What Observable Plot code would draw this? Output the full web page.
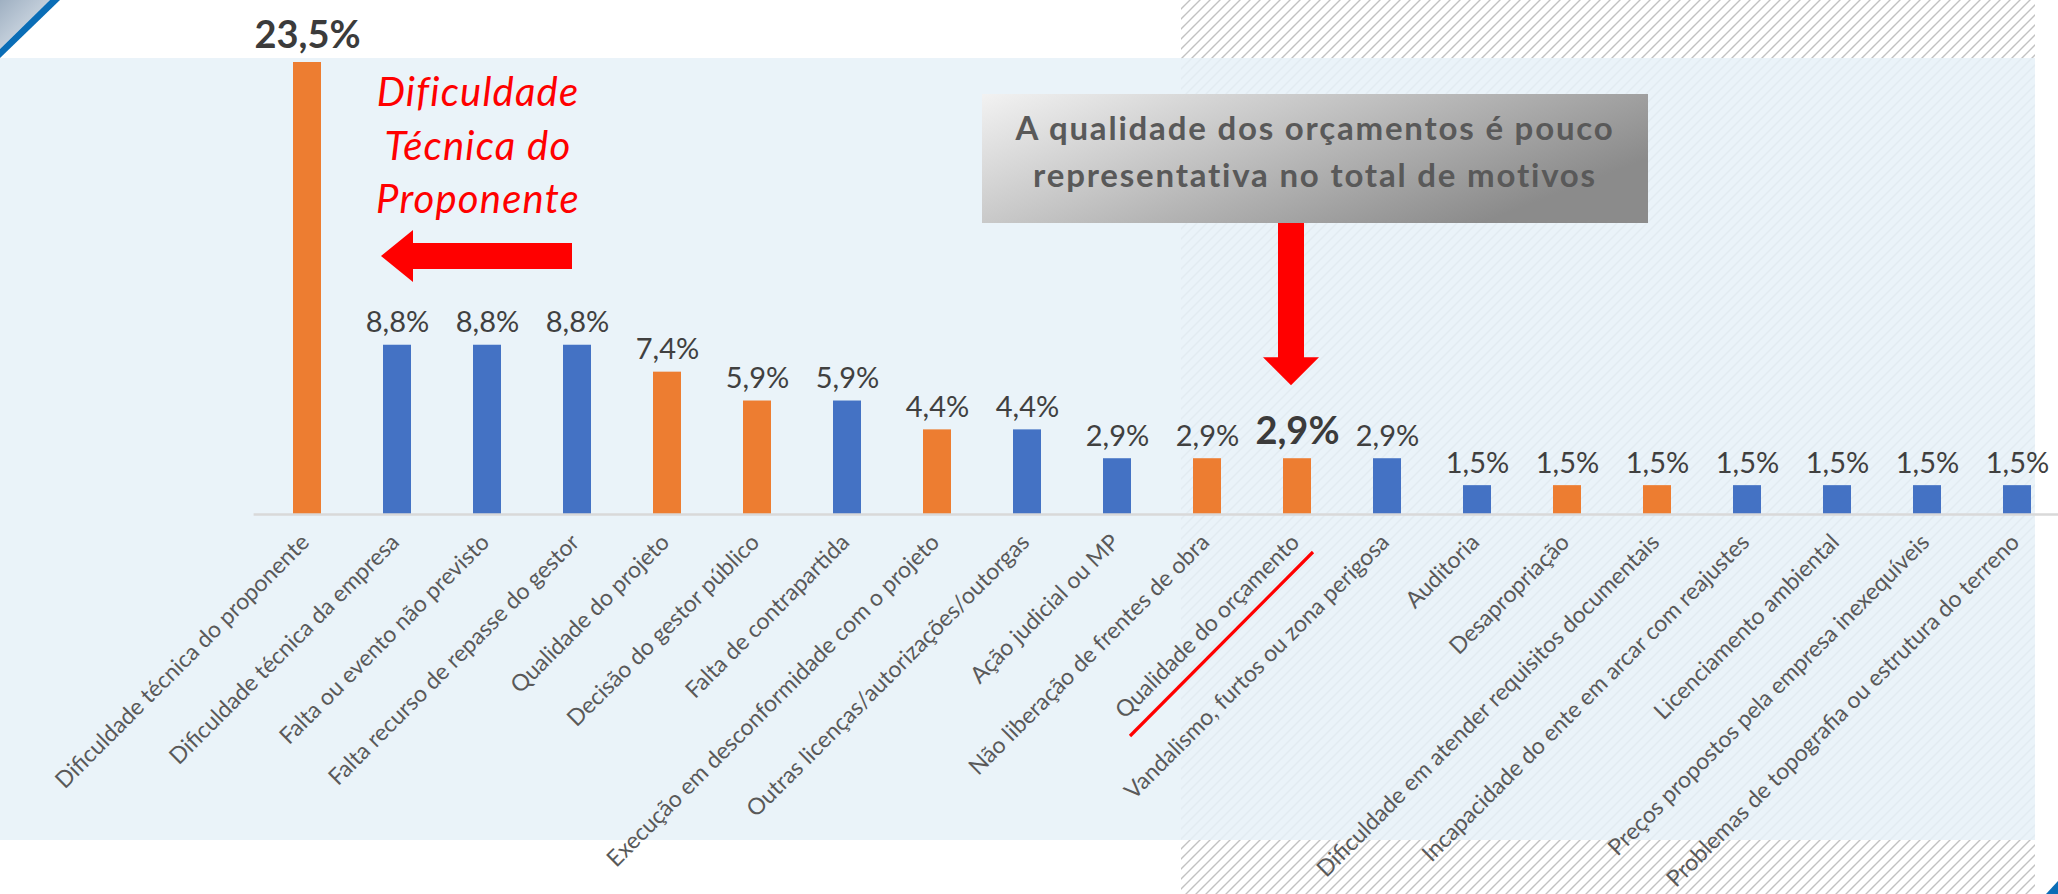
<!DOCTYPE html>
<html>
<head>
<meta charset="utf-8">
<script src="https://cdn.jsdelivr.net/npm/d3@7"></script>
<script src="https://cdn.jsdelivr.net/npm/@observablehq/plot@0.6"></script>
<style>
  html, body { margin: 0; padding: 0; background: #ffffff; }
  #chart svg { display: block; }
</style>
</head>
<body>
<div id="chart"></div>
<script>
// ---- Data ----
const categories = [
  "Dificuldade técnica do proponente",
  "Dificuldade técnica da empresa",
  "Falta ou evento não previsto",
  "Falta recurso de repasse do gestor",
  "Qualidade do projeto",
  "Decisão do gestor público",
  "Falta de contrapartida",
  "Execução em desconformidade com o projeto",
  "Outras licenças/autorizações/outorgas",
  "Ação judicial ou MP",
  "Não liberação de frentes de obra",
  "Qualidade do orçamento",
  "Vandalismo, furtos ou zona perigosa",
  "Auditoria",
  "Desapropriação",
  "Dificuldade em atender requisitos documentais",
  "Incapacidade do ente em arcar com reajustes",
  "Licenciamento ambiental",
  "Preços propostos pela empresa inexequíveis",
  "Problemas de topografia ou estrutura do terreno"
];
const values = [23.5, 8.8, 8.8, 8.8, 7.4, 5.9, 5.9, 4.4, 4.4, 2.9, 2.9, 2.9, 2.9, 1.5, 1.5, 1.5, 1.5, 1.5, 1.5, 1.5];
const groups = ["laranja", "azul", "azul", "azul", "laranja", "laranja", "azul", "laranja", "azul", "azul",
                "laranja", "laranja", "azul", "azul", "laranja", "laranja", "azul", "azul", "azul", "azul"];
const highlighted = ["Dificuldade técnica do proponente", "Qualidade do orçamento"];
const noteLeft = ["Dificuldade", "Técnica do", "Proponente"];
const noteBox = ["A qualidade dos orçamentos é pouco", "representativa no total de motivos"];
const focusCategory = "Qualidade do orçamento";

const table = categories.map((c, i) => ({categoria: c, valor: values[i], grupo: groups[i], destaque: highlighted.includes(c)}));
const fmt = v => d3.format(".1f")(v).replace(".", ",") + "%";

const FONT = "Lato, 'DejaVu Sans', sans-serif";

// ---- Background decoration (panel, hatch, corner ornaments) ----
function background(index, scales, values, dim) {
  const g = d3.create("svg:g");
  const defs = g.append("defs");
  const pat = defs.append("pattern").attr("id", "hatch").attr("patternUnits", "userSpaceOnUse")
    .attr("width", 10).attr("height", 10);
  pat.append("path").attr("d", "M-2,2 L2,-2 M0,10 L10,0 M8,12 L12,8")
    .attr("stroke", "#c2c2c2").attr("stroke-width", 1.4);
  const cg = defs.append("linearGradient").attr("id", "cornerGrad").attr("x1", 0).attr("y1", 0).attr("x2", 1).attr("y2", 1);
  cg.append("stop").attr("offset", 0).attr("stop-color", "#9fb0c2");
  cg.append("stop").attr("offset", 1).attr("stop-color", "#e6ecf2");

  g.append("rect").attr("x", 1181).attr("y", 0).attr("width", 854).attr("height", dim.height).attr("fill", "url(#hatch)");
  g.append("rect").attr("x", 0).attr("y", 58).attr("width", 2035).attr("height", 782)
    .attr("fill", "#e7f1f8").attr("fill-opacity", 0.86);
  g.append("polygon").attr("points", "0,0 50,0 0,49").attr("fill", "url(#cornerGrad)");
  g.append("polygon").attr("points", "50,0 60,0 0,58 0,49").attr("fill", "#0a6db6");
  g.append("polygon").attr("points", "2046,894 2058,881 2058,894").attr("fill", "#0a6db6");
  return g.node();
}

// ---- Foreground annotations ----
function annotations(index, scales, values, dim) {
  const {x, y} = scales;
  const g = d3.create("svg:g");
  const defs = g.append("defs");
  const bg = defs.append("linearGradient").attr("id", "boxGrad").attr("x1", 0).attr("y1", 0).attr("x2", 1).attr("y2", 0.5);
  bg.append("stop").attr("offset", 0).attr("stop-color", "#f2f2f2");
  bg.append("stop").attr("offset", 1).attr("stop-color", "#8b8b8b");

  // Left red note + arrow
  const tl = g.append("text").attr("font-family", FONT).attr("font-style", "italic")
    .attr("font-size", 40).attr("letter-spacing", 1.2).attr("fill", "#ff0000").attr("text-anchor", "middle");
  noteLeft.forEach((s, i) => tl.append("tspan").attr("x", 478).attr("y", 106 + i * 53.5).text(s));
  g.append("polygon")
    .attr("points", "381,256 413,230 413,243 572,243 572,269 413,269 413,282")
    .attr("fill", "#ff0000");

  // Gray box
  g.append("rect").attr("x", 982).attr("y", 94).attr("width", 666).attr("height", 129).attr("fill", "url(#boxGrad)");
  const tb = g.append("text").attr("font-family", FONT).attr("font-weight", "bold")
    .attr("font-size", 33).attr("letter-spacing", 1.8).attr("fill", "#595959").attr("text-anchor", "middle");
  noteBox.forEach((s, i) => tb.append("tspan").attr("x", 1315).attr("y", 140 + i * 47).text(s));

  // Down arrow pointing to the focus bar
  const cx = x(focusCategory) + x.bandwidth() / 2 - 6;
  const tip = y(2.9) - 73;
  g.append("polygon")
    .attr("points", [[cx - 13, 223], [cx + 13, 223], [cx + 13, tip - 28], [cx + 28, tip - 28], [cx, tip], [cx - 28, tip - 28], [cx - 13, tip - 28]].map(p => p.join(",")).join(" "))
    .attr("fill", "#ff0000");

  // Red underline of the focus category label
  const fx = x(focusCategory) + x.bandwidth() / 2, fy = y(0);
  g.append("line").attr("x1", fx - 167).attr("y1", fy + 222).attr("x2", fx + 16).attr("y2", fy + 38)
    .attr("stroke", "#ff0000").attr("stroke-width", 3.2);
  return g.node();
}

const chart = Plot.plot({
  width: 2058,
  height: 894,
  marginTop: 0,
  marginBottom: 0,
  marginLeft: 253.6,
  marginRight: 0,
  style: {background: "#ffffff", fontFamily: FONT, overflow: "visible"},
  x: {type: "band", domain: categories, range: [253.6, 2069.6], paddingInner: 0.69, paddingOuter: 0.345, align: 0.5, axis: null},
  y: {domain: [0, 23.5], range: [514, 62], axis: null},
  color: {domain: ["laranja", "azul"], range: ["#ED7D31", "#4472C4"]},
  marks: [
    background,
    Plot.barY(table, {x: "categoria", y: "valor", fill: "grupo"}),
    Plot.ruleY([0], {stroke: "#d9d9d9", strokeWidth: 2.5}),
    Plot.text(table.filter(d => !d.destaque), {
      x: "categoria", y: "valor", text: d => fmt(d.valor),
      lineAnchor: "bottom", dy: -13, fontSize: 29, fill: "#404040"
    }),
    Plot.text(table.filter(d => d.destaque), {
      x: "categoria", y: "valor", text: d => fmt(d.valor),
      lineAnchor: "bottom", dy: -15, fontSize: 38, fontWeight: "bold", fill: "#3b3b3b"
    }),
    Plot.text(table, {
      x: "categoria", y: () => 0, text: "categoria",
      rotate: -45, textAnchor: "end", lineAnchor: "middle",
      dx: -2, dy: 24, fontSize: 23, letterSpacing: 0.2, fill: "#595959"
    }),
    annotations
  ]
});
document.getElementById("chart").appendChild(chart);
</script>
</body>
</html>
